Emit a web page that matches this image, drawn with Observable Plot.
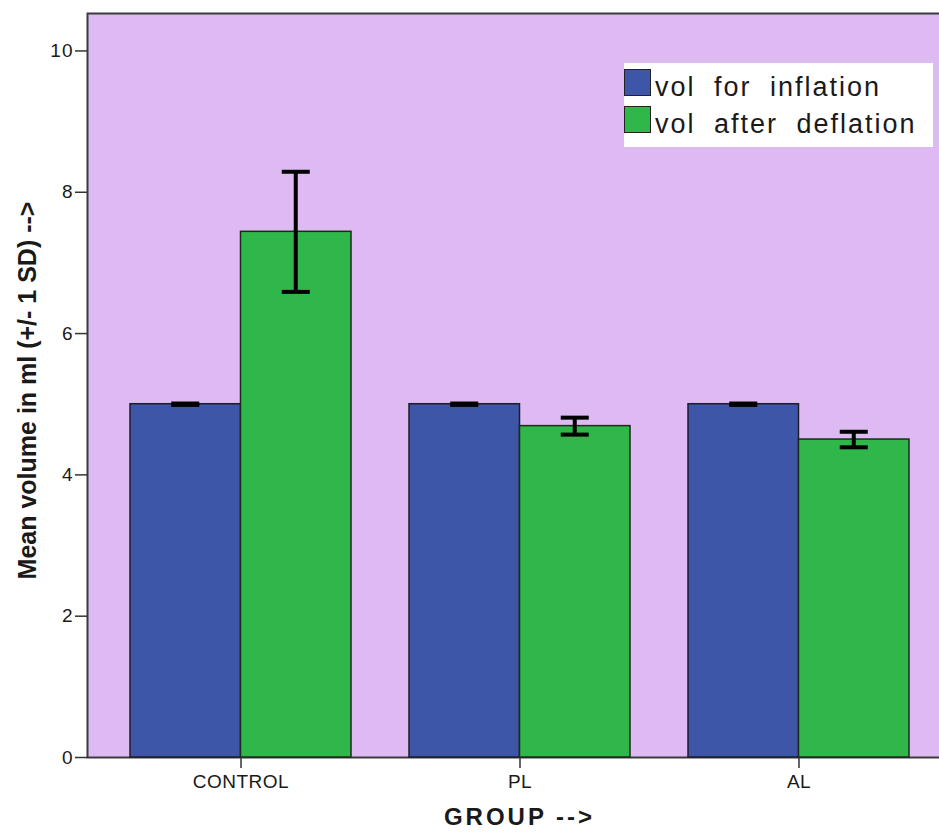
<!DOCTYPE html>
<html>
<head>
<meta charset="utf-8">
<script src="https://cdn.jsdelivr.net/npm/d3@7"></script>
<script src="https://cdn.jsdelivr.net/npm/@observablehq/plot@0.6"></script>
<style>
  html, body { margin: 0; padding: 0; background: white; overflow: hidden; }
  #wrap { position: relative; width: 939px; height: 832px; }
  #legend { position: absolute; left: 624px; top: 63px; width: 309px; height: 84px; background: white;
            font-family: 'Liberation Sans', Arial, sans-serif; font-size: 27px; color: #1a1a1a; }
  .sw { position: absolute; left: 0; width: 27px; height: 27px; border: 1px solid #222; box-sizing: border-box; }
  .lt { position: absolute; left: 31px; line-height: 27px; letter-spacing: 2px; word-spacing: 9px; white-space: pre; }
</style>
</head>
<body>
<div id="wrap"></div>
<script>
// ---- data ----
const groups = ["CONTROL", "PL", "AL"];
const seriesNames = ["vol for inflation", "vol after deflation"];
const inflationMean = [5.0, 5.0, 5.0];
const inflationSD = [0.01, 0.01, 0.01];
const deflationMean = [7.44, 4.69, 4.50];
const deflationSD = [0.85, 0.12, 0.11];
const yTicks = [0, 2, 4, 6, 8, 10];
const yMax = 10.53;
const xTitle = "GROUP -->";
const yTitle = "Mean volume in ml (+/- 1 SD) -->";

// ---- styling ----
const BG = "#DEBAF2", BLUE = "#3E56A8", GREEN = "#2FB74A", INK = "#1a1a1a";
const xRange = [87, 951], padIn = 0.208, padOut = 0.152;
const bw = d3.scaleBand(groups, xRange).paddingInner(padIn).paddingOuter(padOut).round(true).bandwidth();
const half = bw / 2;
const capW = 28, whW = 4;

const inflation = groups.map((g, i) => ({group: g, series: seriesNames[0], mean: inflationMean[i], sd: inflationSD[i]}));
const deflation = groups.map((g, i) => ({group: g, series: seriesNames[1], mean: deflationMean[i], sd: deflationSD[i]}));

function errMarks(data, centerOffset) {
  return [
    Plot.barY(data, {x: "group", y1: d => d.mean - d.sd, y2: d => d.mean + d.sd, fill: "black",
      insetLeft: centerOffset - whW / 2, insetRight: bw - centerOffset - whW / 2}),
    Plot.tickY(data, {x: "group", y: d => d.mean - d.sd, stroke: "black", strokeWidth: 4,
      insetLeft: centerOffset - capW / 2, insetRight: bw - centerOffset - capW / 2}),
    Plot.tickY(data, {x: "group", y: d => d.mean + d.sd, stroke: "black", strokeWidth: 4,
      insetLeft: centerOffset - capW / 2, insetRight: bw - centerOffset - capW / 2})
  ];
}

const chart = Plot.plot({
  width: 939, height: 832,
  marginLeft: 87, marginTop: 13, marginBottom: 75, marginRight: 0,
  style: {fontFamily: "'Liberation Sans', Arial, sans-serif", fontSize: "19px", color: INK, background: "transparent", overflow: "hidden"},
  x: {domain: groups, range: xRange, paddingInner: padIn, paddingOuter: padOut, axis: null},
  y: {domain: [0, yMax], axis: null},
  marks: [
    Plot.frame({fill: BG, stroke: "#3a3a3a", strokeWidth: 2, insetRight: -8}),
    Plot.barY(inflation, {x: "group", y: "mean", fill: BLUE, stroke: "#1c1c2a", strokeWidth: 1.5, insetRight: half}),
    Plot.barY(deflation, {x: "group", y: "mean", fill: GREEN, stroke: "#1c2a1c", strokeWidth: 1.5, insetLeft: half}),
    ...errMarks(inflation, bw / 4),
    ...errMarks(deflation, 3 * bw / 4),
    Plot.axisY({ticks: yTicks, tickSize: 12, tickPadding: 2, label: null, stroke: "#333", strokeWidth: 1.5, fontSize: 19}),
    Plot.axisX({tickSize: 11, tickPadding: 6, label: null, stroke: "#333", strokeWidth: 1.5, fontSize: 19}),
    Plot.text([yTitle], {frameAnchor: "left", textAnchor: "middle", lineAnchor: "middle", dx: -60, dy: 5, rotate: -90, fontSize: 25, fontWeight: "bold", fill: INK}),
    Plot.text([xTitle], {frameAnchor: "bottom", textAnchor: "middle", lineAnchor: "middle", dx: 6, dy: 60, fontSize: 24, fontWeight: "bold", fill: INK})
  ]
});

d3.select(chart).selectAll("text").each(function() {
  const t = this.textContent;
  if (t === xTitle) this.style.letterSpacing = "3px";
  else if (groups.includes(t)) this.style.letterSpacing = "0.5px";
  else if (/^\d+$/.test(t)) this.style.letterSpacing = "1px";
});

const wrap = document.getElementById("wrap");
wrap.appendChild(chart);

// legend
const legend = document.createElement("div");
legend.id = "legend";
const colors = [BLUE, GREEN];
const swTops = [6, 43], txtTops = [11, 48];
seriesNames.forEach((s, i) => {
  const sw = document.createElement("div");
  sw.className = "sw"; sw.style.top = swTops[i] + "px"; sw.style.background = colors[i];
  const lt = document.createElement("div");
  lt.className = "lt"; lt.style.top = txtTops[i] + "px"; lt.textContent = s;
  legend.appendChild(sw); legend.appendChild(lt);
});
wrap.appendChild(legend);
</script>
</body>
</html>
